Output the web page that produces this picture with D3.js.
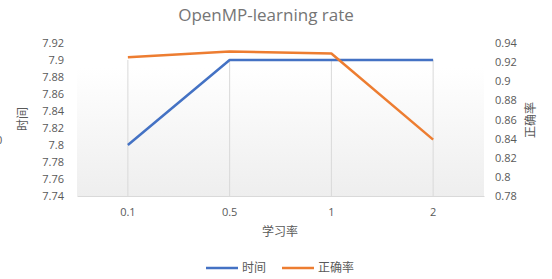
<!DOCTYPE html>
<html><head><meta charset="utf-8">
<script src="https://cdn.jsdelivr.net/npm/d3@7"></script>
<style>body{margin:0;background:#fff}svg{display:block}text{font-family:"Open Sans","Noto Sans CJK SC",sans-serif}</style>
</head><body><svg id="c" width="552" height="279"></svg>
<script>
const categories = ["0.1","0.5","1","2"];
const timeValues = [7.8, 7.9, 7.9, 7.9];
const accuracyValues = [0.925, 0.931, 0.929, 0.839];
const leftTicks = [7.74,7.76,7.78,7.8,7.82,7.84,7.86,7.88,7.9,7.92];
const rightTicks = [0.78,0.8,0.82,0.84,0.86,0.88,0.9,0.92,0.94];

const svg = d3.select("#c");
const L = 77, R = 484, T = 43, B = 196;
const x = d3.scaleBand().domain(categories).range([L, R]);
const yL = d3.scaleLinear().domain([7.74, 7.92]).range([B, T]);
const yR = d3.scaleLinear().domain([0.78, 0.94]).range([B, T]);
const fmt = d => String(+d.toFixed(2));
const grey = "#595959";

const defs = svg.append("defs");
const g = defs.append("linearGradient").attr("id","bg").attr("x1",0).attr("y1",0).attr("x2",0).attr("y2",1);
g.append("stop").attr("offset","0%").attr("stop-color","#ffffff");
g.append("stop").attr("offset","100%").attr("stop-color","#eeeeee");
svg.append("rect").attr("x",L).attr("y",68).attr("width",R-L).attr("height",B-68).attr("fill","url(#bg)");

// vertical gridlines
svg.append("g").selectAll("line").data(categories).join("line")
  .attr("x1",d=>x(d)+x.bandwidth()/2).attr("x2",d=>x(d)+x.bandwidth()/2)
  .attr("y1",B).attr("y2",60).attr("stroke","#d9d9d9").attr("stroke-width",1);

// x axis
const xa = svg.append("g").attr("transform",`translate(0,${B})`).call(d3.axisBottom(x).tickSize(0).tickPadding(12));
xa.select(".domain").attr("stroke","#d9d9d9");
xa.selectAll("text").attr("fill",grey).attr("font-size",11);

// left axis
const la = svg.append("g").attr("transform",`translate(${L-10},0)`).call(d3.axisLeft(yL).tickValues(leftTicks).tickFormat(fmt).tickSize(0).tickPadding(3));
la.select(".domain").remove();
la.selectAll("text").attr("fill",grey).attr("font-size",11);

// right axis
const ra = svg.append("g").attr("transform",`translate(${R+8},0)`).call(d3.axisRight(yR).tickValues(rightTicks).tickFormat(fmt).tickSize(0).tickPadding(3));
ra.select(".domain").remove();
ra.selectAll("text").attr("fill",grey).attr("font-size",11);

const cx = d => x(d)+x.bandwidth()/2;
const lineL = d3.line().x((d,i)=>cx(categories[i])).y(d=>yL(d));
const lineR = d3.line().x((d,i)=>cx(categories[i])).y(d=>yR(d));
svg.append("path").datum(timeValues).attr("d",lineL).attr("fill","none").attr("stroke","#4472c4").attr("stroke-width",2.5).attr("stroke-linejoin","round");
svg.append("path").datum(accuracyValues).attr("d",lineR).attr("fill","none").attr("stroke","#ed7d31").attr("stroke-width",2.5).attr("stroke-linejoin","round");

// titles
svg.append("text").attr("x",266).attr("y",21).attr("text-anchor","middle").attr("fill","#757575").attr("font-size",17).text("OpenMP-learning rate");
svg.append("text").attr("x",280).attr("y",236).attr("text-anchor","middle").attr("fill",grey).attr("font-size",12).text("学习率");
svg.append("text").attr("transform","translate(27,119) rotate(-90)").attr("text-anchor","middle").attr("fill",grey).attr("font-size",12).text("时间");
svg.append("text").attr("transform","translate(535,120) rotate(-90)").attr("text-anchor","middle").attr("fill",grey).attr("font-size",12).text("正确率");
svg.append("text").attr("x",-4).attr("y",144).attr("fill",grey).attr("font-size",11).text("0");

// legend
const leg = [{n:"时间",c:"#4472c4",x:206},{n:"正确率",c:"#ed7d31",x:282}];
const lg = svg.append("g").selectAll("g").data(leg).join("g");
lg.append("line").attr("x1",d=>d.x).attr("x2",d=>d.x+32).attr("y1",268).attr("y2",268).attr("stroke",d=>d.c).attr("stroke-width",2.5);
lg.append("text").attr("x",d=>d.x+36).attr("y",272).attr("fill",grey).attr("font-size",12).text(d=>d.n);
</script></body></html>
